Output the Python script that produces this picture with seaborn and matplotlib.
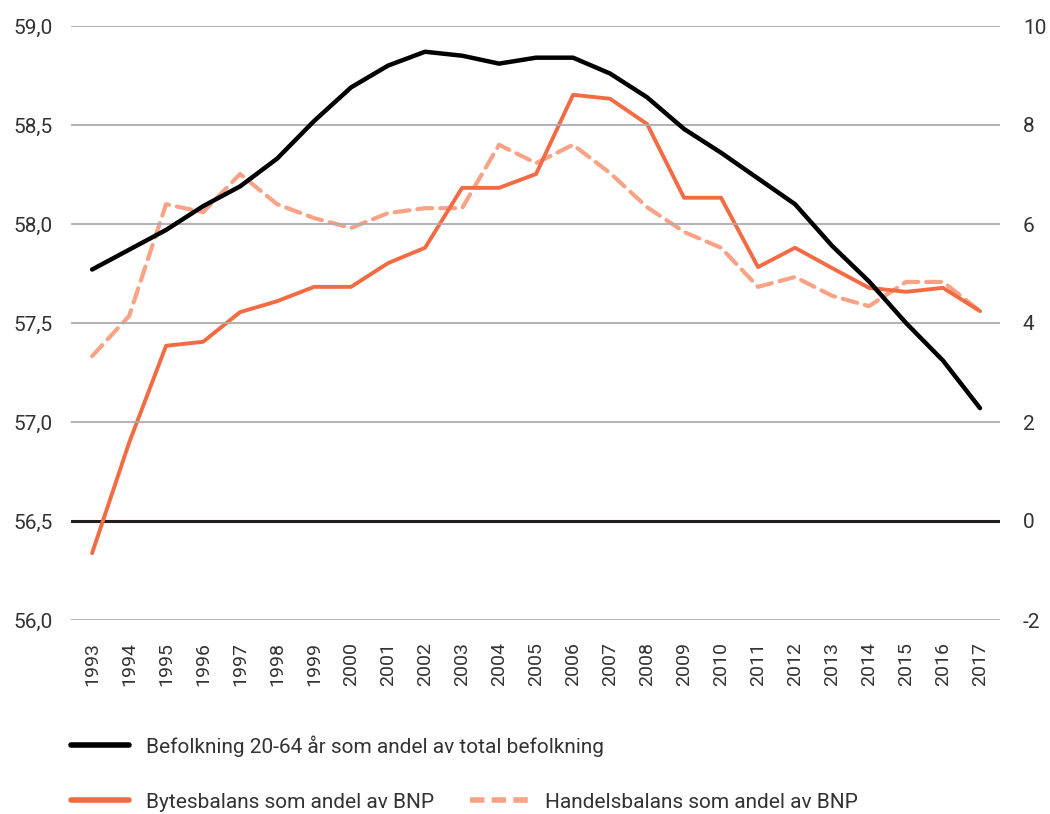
import numpy as np
import pandas as pd
import matplotlib
matplotlib.use('Agg')
import matplotlib.pyplot as plt
import seaborn as sns
from matplotlib.ticker import FuncFormatter
from matplotlib.lines import Line2D

# Data
years = list(range(1993, 2018))
befolkning = [57.77, 57.87, 57.97, 58.09, 58.19, 58.33, 58.52, 58.69, 58.80, 58.87,
              58.85, 58.81, 58.84, 58.84, 58.76, 58.64, 58.48, 58.36, 58.23, 58.10,
              57.89, 57.71, 57.50, 57.31, 57.07]
bytesbalans = [-0.65, 1.58, 3.54, 3.62, 4.22, 4.44, 4.73, 4.73, 5.21, 5.52,
               6.73, 6.73, 7.01, 8.61, 8.53, 8.02, 6.53, 6.53, 5.13, 5.52,
               5.11, 4.71, 4.63, 4.71, 4.24]
handelsbalans = [3.33, 4.14, 6.40, 6.24, 7.01, 6.40, 6.12, 5.92, 6.22, 6.32,
                 6.32, 7.60, 7.23, 7.60, 7.03, 6.34, 5.84, 5.52, 4.73, 4.93,
                 4.55, 4.34, 4.83, 4.83, 4.24]

labels = ['Befolkning 20-64 år som andel av total befolkning',
          'Bytesbalans som andel av BNP',
          'Handelsbalans som andel av BNP']

black = '#000000'
orange = '#F26B43'
salmon = '#F8A386'
grid_col = '#ababb2'
text_col = '#333333'

df = pd.DataFrame({'year': years, 'befolkning': befolkning,
                   'bytesbalans': bytesbalans, 'handelsbalans': handelsbalans})

sns.set_style('white')
plt.rcParams['font.family'] = ['Roboto', 'DejaVu Sans']

fig = plt.figure(figsize=(10.5, 8.14), dpi=100)
ax = fig.add_axes([71 / 1050, 1 - 620 / 814, 929 / 1050, 594 / 814])
ax2 = ax.twinx()

# Left axis
ax.set_ylim(56.0, 59.0)
ax.set_yticks(np.arange(56.0, 59.01, 0.5))
ax.yaxis.set_major_formatter(FuncFormatter(lambda v, p: f'{v:.1f}'.replace('.', ',')))
ax.set_xlim(1992.43, 2017.54)
ax.set_xticks(years)
ax.set_xticklabels([str(y) for y in years], rotation=90)
for yv in np.arange(56.0, 59.01, 0.5):
    if abs(yv - 56.5) > 1e-6:
        ax.axhline(yv, color=grid_col, lw=1.3, zorder=0)

# Right axis
ax2.set_ylim(-2, 10)
ax2.set_yticks(np.arange(-2, 11, 2))
ax2.yaxis.set_major_formatter(FuncFormatter(lambda v, p: f'{v:.0f}'))
ax2.axhline(0, color='#231f20', lw=2.2, zorder=1)

sns.lineplot(data=df, x='year', y='befolkning', ax=ax, color=black, lw=3.2,
             zorder=5, legend=False)
ax.set_zorder(2)
ax.patch.set_visible(False)
ax2.set_zorder(1)
sns.lineplot(data=df, x='year', y='handelsbalans', ax=ax2, color=salmon, lw=3.0,
             dashes=False, zorder=3, legend=False)
ax2.lines[-1].set_dashes((3.6, 1.9))
ax2.lines[-1].set_dash_capstyle('round')
sns.lineplot(data=df, x='year', y='bytesbalans', ax=ax2, color=orange, lw=2.8,
             zorder=4, legend=False)

for a in (ax, ax2):
    a.set_xlabel('')
    a.set_ylabel('')
    for s in a.spines.values():
        s.set_visible(False)
    a.grid(False)

ax.tick_params(axis='y', length=0, pad=13, labelsize=15, labelcolor=text_col)
ax.tick_params(axis='x', length=0, pad=16, labelsize=14, labelcolor=text_col)
ax2.tick_params(axis='y', length=0, pad=16.5, labelsize=15, labelcolor=text_col)

# Legend rows
h_black = Line2D([], [], color=black, lw=4)
h_orange = Line2D([], [], color=orange, lw=4)
h_salmon = Line2D([], [], color=salmon, lw=4, dashes=(2.6, 1.3))
common = dict(frameon=False, loc='center left', borderpad=0, borderaxespad=0,
              handlelength=2.8, handletextpad=0.8, fontsize=15, labelcolor=text_col)
fig.legend([h_black], [labels[0]], bbox_to_anchor=(71 / 1050, 1 - 746 / 814), **common)
fig.legend([h_orange], [labels[1]], bbox_to_anchor=(71 / 1050, 1 - 802 / 814), **common)
fig.legend([h_salmon], [labels[2]], bbox_to_anchor=(470 / 1050, 1 - 802 / 814), **common)

fig.savefig('out.png', dpi=100)
